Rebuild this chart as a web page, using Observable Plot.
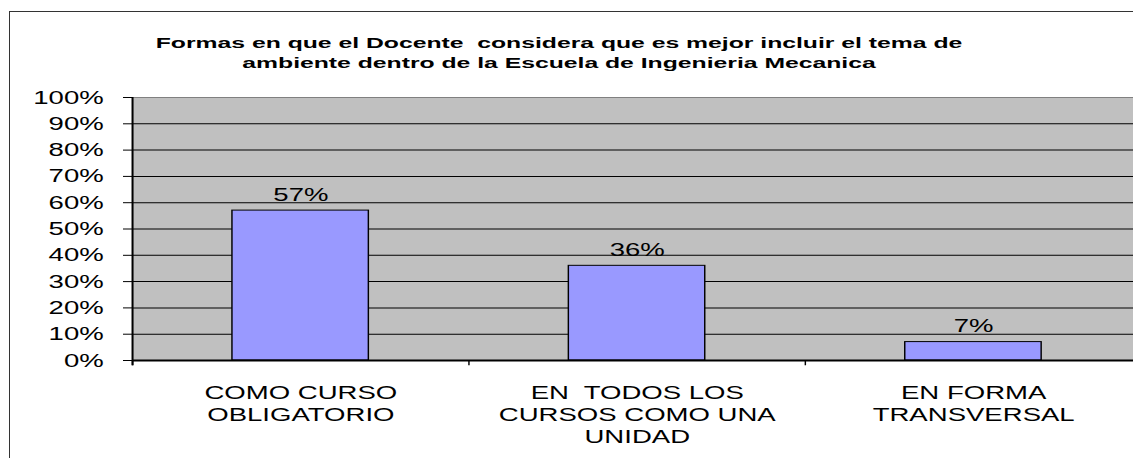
<!DOCTYPE html>
<html><head><meta charset="utf-8">
<script src="https://cdn.jsdelivr.net/npm/d3@7"></script>
<script src="https://cdn.jsdelivr.net/npm/@observablehq/plot@0.6"></script>
<style>
html,body{margin:0;padding:0;background:#fff;overflow:hidden;width:1133px;height:458px;}
#wrap{position:relative;width:1133px;height:458px;overflow:hidden;font-family:"Liberation Sans",Arial,sans-serif;}
#border{position:absolute;left:9px;top:11px;width:1300px;height:700px;border:1px solid #333;box-sizing:border-box;}
.tline{position:absolute;left:559px;font-weight:bold;font-size:14px;line-height:20px;white-space:pre;color:#000;transform-origin:center center;}
#chart{position:absolute;left:0;top:0;}
</style>
</head><body>
<div id="wrap">
  <div id="chart"></div>
  <div id="border"></div>
  <div class="tline" id="t1"></div>
  <div class="tline" id="t2"></div>
</div>
<script>
const titleLines = ["Formas en que el Docente  considera que es mejor incluir el tema de",
                    "ambiente dentro de la Escuela de Ingenieria Mecanica"];
const categories = ["COMO CURSO\nOBLIGATORIO", "EN  TODOS LOS\nCURSOS COMO UNA\nUNIDAD", "EN FORMA\nTRANSVERSAL"];
const values = [0.57, 0.36, 0.07];
const valueLabels = ["57%", "36%", "7%"];
const yTicks = [0, 0.1, 0.2, 0.3, 0.4, 0.5, 0.6, 0.7, 0.8, 0.9, 1.0];

const data = categories.map((c, i) => ({category: c, value: values[i], label: valueLabels[i]}));

// horizontal stretch of the original picture
const S = 1.45, FULLW = 1160, H = 458;
const W0 = FULLW / S;
const mL = 132 / S, mR = (FULLW - 1142) / S;
const bw = (W0 - mL - mR) / categories.length;

const chart = Plot.plot({
  width: W0, height: H,
  marginLeft: mL, marginRight: mR, marginTop: 97, marginBottom: H - 360,
  style: {fontFamily: "'Liberation Sans', Arial, sans-serif", fontSize: "19px", color: "#000", background: "transparent", overflow: "visible"},
  x: {domain: categories, padding: 0, axis: null},
  y: {domain: [0, 1], ticks: yTicks, tickFormat: d3.format(".0%"), tickSize: 9 / S, tickPadding: 20 / S, label: null},
  marks: [
    Plot.frame({fill: "#c0c0c0", stroke: null}),
    Plot.ruleY(yTicks.filter(d => d > 0 && d < 1), {stroke: "#000", strokeWidth: 1}),
    Plot.ruleY([1], {stroke: "#808080", strokeWidth: 1}),
    Plot.barY(data, {x: "category", y: "value", fill: "#9999ff", stroke: "#000", strokeWidth: 1, insetLeft: 100 / S, insetRight: 100 / S}),
    Plot.text(data, {x: "category", y: "value", text: "label", lineAnchor: "bottom", dy: -10, fontSize: 19, fill: "#000"}),
    Plot.text(data, {x: "category", y: 0, text: "category", lineAnchor: "top", dy: 23, fontSize: 19, lineHeight: 1.16, fill: "#000"}),
    Plot.ruleY([0], {stroke: "#000", strokeWidth: 2}),
    Plot.ruleX(categories, {x: d => d, dx: -bw / 2, y1: 0, y2: -0.02, stroke: "#000", strokeWidth: 1}),
    Plot.ruleX([categories[0]], {x: d => d, dx: -bw / 2, y1: -0.02, y2: 1, stroke: "#000", strokeWidth: 1.4})
  ]
});
chart.setAttribute("width", FULLW);
chart.setAttribute("height", H);
chart.setAttribute("preserveAspectRatio", "none");
chart.style.maxWidth = "none";
chart.style.width = FULLW + "px";
chart.style.height = H + "px";
document.getElementById("chart").appendChild(chart);

// title lines
const t1 = document.getElementById("t1"), t2 = document.getElementById("t2");
t1.textContent = titleLines[0];
t2.textContent = titleLines[1];
const k = 807 / t1.offsetWidth;
t1.style.top = "33px";
t2.style.top = "53px";
t1.style.transform = `translateX(-50%) scaleX(${k})`;
t2.style.transform = `translateX(-50%) scaleX(${k})`;
</script>
</body></html>
